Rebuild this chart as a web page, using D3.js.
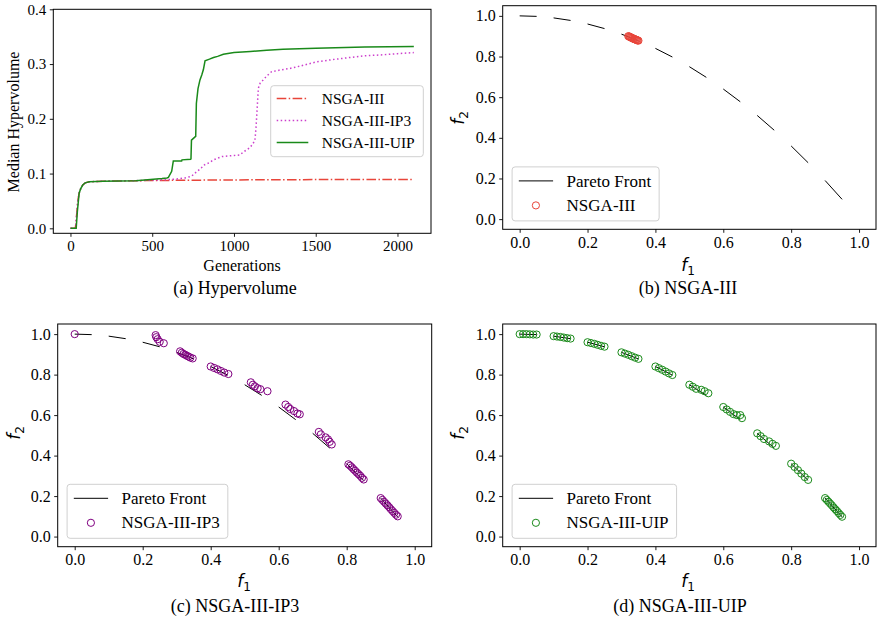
<!DOCTYPE html>
<html>
<head>
<meta charset="utf-8">
<script src="https://cdn.jsdelivr.net/npm/d3@7"></script>
<style>
  html, body { margin: 0; padding: 0; background: #fff; }
  svg { display: block; }
  text { font-family: "Liberation Serif", "Times New Roman", serif; fill: #000; }
</style>
</head>
<body>
<svg id="fig" width="878" height="622"></svg>
<script>
// ---------- Hypervolume curves (median over runs) ----------
const hvGenNsga3 = [0, 30, 35, 45, 53, 62, 75, 90, 115, 200, 400, 700, 1000, 1500, 2100];
const hvNsga3    = [0, 0, 0.015, 0.05, 0.064, 0.072, 0.079, 0.083, 0.085, 0.086, 0.087, 0.0878, 0.0884, 0.089, 0.0893];

const hvGenIp3 = [0, 30, 35, 45, 53, 62, 75, 90, 115, 200, 300, 400, 500, 600, 650, 700, 740, 770, 800, 813, 850, 874, 900, 925, 960, 1000, 1036, 1060, 1077, 1100, 1128, 1135, 1142, 1149, 1160, 1179, 1200, 1230, 1280, 1342, 1400, 1505, 1600, 1709, 1800, 1913, 2000, 2100];
const hvIp3    = [0, 0, 0.015, 0.05, 0.064, 0.072, 0.079, 0.083, 0.085, 0.086, 0.0865, 0.087, 0.088, 0.089, 0.09, 0.092, 0.095, 0.103, 0.11, 0.115, 0.12, 0.125, 0.128, 0.131, 0.132, 0.133, 0.134, 0.14, 0.143, 0.148, 0.16, 0.185, 0.22, 0.256, 0.265, 0.271, 0.278, 0.286, 0.289, 0.292, 0.296, 0.304, 0.308, 0.312, 0.315, 0.317, 0.319, 0.321];

const hvGenUip = [0, 35, 42, 53, 62, 75, 90, 115, 200, 300, 400, 507, 560, 590, 599, 619, 629, 680, 682, 735, 737, 740, 762, 766, 770, 780, 792, 803, 813, 823, 850, 875, 900, 935, 1000, 1100, 1200, 1300, 1500, 1800, 2100];
const hvUip    = [0, 0, 0.03, 0.064, 0.072, 0.079, 0.083, 0.085, 0.086, 0.0865, 0.087, 0.0896, 0.091, 0.092, 0.093, 0.104, 0.123, 0.123, 0.125, 0.126, 0.127, 0.161, 0.167, 0.168, 0.228, 0.255, 0.271, 0.28, 0.29, 0.306, 0.309, 0.312, 0.314, 0.318, 0.321, 0.323, 0.325, 0.327, 0.329, 0.331, 0.332];

const hvTicksX = [0, 500, 1000, 1500, 2000];
const hvTicksY = [0.0, 0.1, 0.2, 0.3, 0.4];

// ---------- Pareto front: disconnected segments [f1, f2] ----------
const frontSegments = [
  [[0.00, 1.000], [0.05, 0.9975]],
  [[0.10, 0.990], [0.15, 0.9775]],
  [[0.20, 0.960], [0.25, 0.9375]],
  [[0.30, 0.910], [0.35, 0.8775]],
  [[0.40, 0.840], [0.45, 0.7975]],
  [[0.50, 0.750], [0.55, 0.6975]],
  [[0.60, 0.640], [0.65, 0.5775]],
  [[0.70, 0.510], [0.75, 0.4375]],
  [[0.80, 0.360], [0.85, 0.2775]],
  [[0.90, 0.190], [0.95, 0.0975]]
];

// ---------- Final populations [f1, f2] ----------
const popNsga3 = [
  [0.320, 0.900], [0.322, 0.899], [0.324, 0.897], [0.326, 0.895], [0.328, 0.894], [0.330, 0.892],
  [0.332, 0.890], [0.334, 0.889], [0.336, 0.887], [0.338, 0.886], [0.340, 0.884], [0.342, 0.883],
  [0.344, 0.882], [0.346, 0.880], [0.348, 0.879], [0.350, 0.878]
];

const popIp3 = [
  [0.000, 1.000],
  [0.238, 0.995], [0.240, 0.985], [0.244, 0.975], [0.250, 0.962], [0.262, 0.955],
  [0.310, 0.915], [0.315, 0.908], [0.320, 0.902], [0.325, 0.898], [0.330, 0.893], [0.335, 0.889], [0.340, 0.884], [0.347, 0.880],
  [0.400, 0.840], [0.410, 0.833], [0.420, 0.826], [0.430, 0.818], [0.440, 0.810], [0.452, 0.803],
  [0.518, 0.762], [0.524, 0.750], [0.530, 0.742], [0.538, 0.733], [0.546, 0.728], [0.567, 0.718],
  [0.620, 0.652], [0.628, 0.640], [0.634, 0.630], [0.645, 0.620], [0.655, 0.608], [0.662, 0.604],
  [0.718, 0.517], [0.724, 0.505], [0.738, 0.490], [0.745, 0.480], [0.750, 0.468], [0.756, 0.455],
  [0.805, 0.357], [0.810, 0.350], [0.815, 0.342], [0.820, 0.333], [0.825, 0.325], [0.830, 0.316],
  [0.835, 0.308], [0.840, 0.300], [0.845, 0.290], [0.850, 0.282],
  [0.900, 0.190], [0.905, 0.181], [0.910, 0.172], [0.915, 0.163], [0.920, 0.154], [0.925, 0.145],
  [0.930, 0.135], [0.935, 0.126], [0.940, 0.117], [0.945, 0.108], [0.950, 0.100]
];

const popUip = [
  [0.000, 1.000], [0.010, 1.000], [0.020, 1.000], [0.030, 0.999], [0.040, 0.998], [0.050, 0.998],
  [0.100, 0.990], [0.110, 0.988], [0.120, 0.986], [0.130, 0.983], [0.140, 0.980], [0.150, 0.978],
  [0.200, 0.960], [0.210, 0.956], [0.220, 0.952], [0.230, 0.947], [0.240, 0.942], [0.250, 0.938],
  [0.300, 0.910], [0.310, 0.904], [0.320, 0.898], [0.330, 0.891], [0.340, 0.884], [0.350, 0.878],
  [0.400, 0.840], [0.410, 0.832], [0.420, 0.824], [0.430, 0.815], [0.440, 0.806], [0.450, 0.798],
  [0.500, 0.750], [0.510, 0.740], [0.520, 0.730], [0.535, 0.725], [0.545, 0.718], [0.556, 0.708],
  [0.600, 0.640], [0.610, 0.628], [0.620, 0.616], [0.630, 0.605], [0.640, 0.600], [0.650, 0.600], [0.655, 0.585],
  [0.700, 0.510], [0.710, 0.496], [0.720, 0.482], [0.735, 0.470], [0.745, 0.458], [0.755, 0.448],
  [0.800, 0.360], [0.810, 0.344], [0.820, 0.328], [0.830, 0.311], [0.840, 0.294], [0.850, 0.280],
  [0.900, 0.190], [0.905, 0.181], [0.910, 0.172], [0.915, 0.163], [0.920, 0.154], [0.925, 0.144],
  [0.930, 0.135], [0.935, 0.126], [0.940, 0.116], [0.945, 0.107], [0.950, 0.098]
];

const fTicks = [0.0, 0.2, 0.4, 0.6, 0.8, 1.0];

// ---------- colours ----------
const cRed = "#e8453a", cMagenta = "#cc3fcc", cGreen = "#1a8a1a", cPurple = "#800080";

const svg = d3.select("#fig");
svg.append("rect").attr("width", 878).attr("height", 622).attr("fill", "#fff");

// Generic axes frame + ticks
function frame(g, x, y, xt, yt, fmtX, fmtY, fs) {
  const [x0, x1] = x.range(), [y0, y1] = y.range();
  const ax = g.append("g").attr("transform", `translate(0,${y0})`)
    .call(d3.axisBottom(x).tickValues(xt).tickFormat(fmtX).tickSizeInner(3.5).tickSizeOuter(0).tickPadding(3.5));
  const ay = g.append("g").attr("transform", `translate(${x0},0)`)
    .call(d3.axisLeft(y).tickValues(yt).tickFormat(fmtY).tickSizeInner(3.5).tickSizeOuter(0).tickPadding(3.5));
  [ax, ay].forEach(a => {
    a.select(".domain").remove();
    a.selectAll("line").attr("stroke", "#000").attr("stroke-width", 0.9);
    a.selectAll("text").attr("font-family", "Liberation Serif, Times New Roman, serif")
      .attr("font-size", fs).attr("fill", "#000");
  });
  g.append("rect").attr("x", x0).attr("y", y1).attr("width", x1 - x0).attr("height", y0 - y1)
    .attr("fill", "none").attr("stroke", "#000").attr("stroke-width", 1);
}

// Math-style axis label  f_n
function mathLabel(g, cx, cy, sub, rotate) {
  const t = g.append("text").attr("text-anchor", "middle")
    .attr("transform", `translate(${cx},${cy})` + (rotate ? " rotate(-90)" : ""))
    .attr("dy", "0.3em")
    .style("font-family", "DejaVu Sans, sans-serif").attr("font-size", 17);
  t.append("tspan").attr("font-style", "italic").text("f");
  t.append("tspan").attr("font-size", 12).attr("dy", 4).text(sub);
}

// ================= (a) Hypervolume =================
{
  const g = svg.append("g");
  const x = d3.scaleLinear().domain([-105, 2205]).range([53.3, 431]);
  const y = d3.scaleLinear().domain([-0.0091, 0.4]).range([233.3, 9.3]);
  frame(g, x, y, hvTicksX, hvTicksY, d3.format("d"), d3.format(".1f"), 15);

  const series = [
    { gen: hvGenNsga3, v: hvNsga3, color: cRed, dash: "9.6,2.4,1.5,2.4", name: "NSGA-III" },
    { gen: hvGenIp3, v: hvIp3, color: cMagenta, dash: "1.5,2.5", name: "NSGA-III-IP3" },
    { gen: hvGenUip, v: hvUip, color: cGreen, dash: null, name: "NSGA-III-UIP" }
  ];
  const line = d3.line().x(d => x(d[0])).y(d => y(d[1]));
  series.forEach(s => {
    g.append("path").datum(s.gen.map((gv, i) => [gv, s.v[i]]))
      .attr("d", line).attr("fill", "none").attr("stroke", s.color)
      .attr("stroke-width", 1.5).attr("stroke-dasharray", s.dash);
  });

  // legend
  const lg = g.append("g");
  const bx = 270.7, by = 85.7, bw = 152.6, bh = 71;
  lg.append("rect").attr("x", bx).attr("y", by).attr("width", bw).attr("height", bh).attr("rx", 3)
    .attr("fill", "#fff").attr("fill-opacity", 0.8).attr("stroke", "#d0d0d0").attr("stroke-width", 1);
  series.forEach((s, i) => {
    const cy = by + 12.8 + i * 22;
    lg.append("line").attr("x1", bx + 6).attr("x2", bx + 37.6).attr("y1", cy).attr("y2", cy)
      .attr("stroke", s.color).attr("stroke-width", 1.5).attr("stroke-dasharray", s.dash);
    lg.append("text").attr("x", bx + 51).attr("y", cy).attr("dy", "0.33em").attr("font-size", 15.5).text(s.name);
  });

  g.append("text").attr("x", 242).attr("y", 266).attr("dy", "0.33em").attr("text-anchor", "middle")
    .attr("font-size", 16).text("Generations");
  g.append("text").attr("transform", "translate(14,122) rotate(-90)").attr("dy", "0.33em")
    .attr("text-anchor", "middle").attr("font-size", 16).text("Median Hypervolume");
  g.append("text").attr("x", 235).attr("y", 288).attr("dy", "0.33em").attr("text-anchor", "middle")
    .attr("font-size", 18).text("(a) Hypervolume");
}

// ================= (b)-(d) objective space =================
function objPanel(box, pop, color, name, caption, capX, capY, lab) {
  const g = svg.append("g");
  const x = d3.scaleLinear().domain([-0.05, 1.05]).range([box.l, box.r]);
  const y = d3.scaleLinear().domain([-0.05, 1.05]).range([box.b, box.t]);
  frame(g, x, y, fTicks, fTicks, d3.format(".1f"), d3.format(".1f"), 16);

  const line = d3.line().x(d => x(d[0])).y(d => y(d[1]));
  frontSegments.forEach(seg => {
    g.append("path").datum(seg).attr("d", line).attr("fill", "none")
      .attr("stroke", "#000").attr("stroke-width", 1);
  });
  g.append("g").selectAll("circle").data(pop).join("circle")
    .attr("cx", d => x(d[0])).attr("cy", d => y(d[1])).attr("r", 3.6)
    .attr("fill", "none").attr("stroke", color).attr("stroke-width", 1);

  // legend
  const lg = g.append("g");
  const bx = box.l + 9.4, bh = 54, by = box.b - 8.4 - bh;
  const rect = lg.append("rect").attr("x", bx).attr("y", by).attr("height", bh).attr("rx", 3)
    .attr("fill", "#fff").attr("fill-opacity", 0.8).attr("stroke", "#d0d0d0").attr("stroke-width", 1);
  const r1 = by + 14, r2 = by + 38.5;
  lg.append("line").attr("x1", bx + 6.7).attr("x2", bx + 41).attr("y1", r1).attr("y2", r1)
    .attr("stroke", "#000").attr("stroke-width", 1);
  lg.append("circle").attr("cx", bx + 23.8).attr("cy", r2).attr("r", 3.6)
    .attr("fill", "none").attr("stroke", color).attr("stroke-width", 1);
  const t1 = lg.append("text").attr("x", bx + 54.5).attr("y", r1).attr("dy", "0.33em").attr("font-size", 17).text("Pareto Front");
  const t2 = lg.append("text").attr("x", bx + 54.5).attr("y", r2).attr("dy", "0.33em").attr("font-size", 17).text(name);
  const tw = Math.max(t1.node().getComputedTextLength(), t2.node().getComputedTextLength());
  rect.attr("width", 54.5 + tw + 8);

  mathLabel(g, lab.x1, lab.y1, "1", false);
  mathLabel(g, lab.x2, lab.y2, "2", true);
  g.append("text").attr("x", capX).attr("y", capY).attr("dy", "0.33em").attr("text-anchor", "middle")
    .attr("font-size", 18).text(caption);
}

objPanel({ l: 502.7, r: 876, t: 5.7, b: 229.3 }, popNsga3, cRed, "NSGA-III", "(b) NSGA-III", 688, 288,
  { x1: 688, y1: 266, x2: 459, y2: 118 });
objPanel({ l: 57.7, r: 431.7, t: 324, b: 546.7 }, popIp3, cPurple, "NSGA-III-IP3", "(c) NSGA-III-IP3", 235, 606.5,
  { x1: 244, y1: 582, x2: 15, y2: 433 });
objPanel({ l: 502.7, r: 876, t: 324, b: 546.7 }, popUip, cGreen, "NSGA-III-UIP", "(d) NSGA-III-UIP", 680, 606.5,
  { x1: 688, y1: 582, x2: 459, y2: 433 });
</script>
</body>
</html>
